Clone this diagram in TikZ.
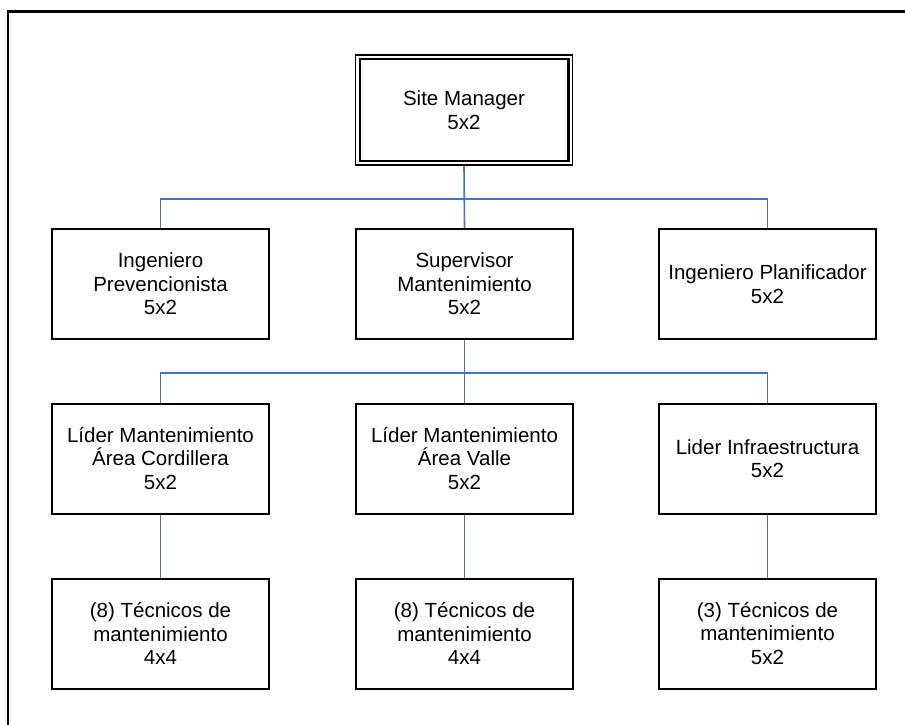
\documentclass[tikz,border=0pt]{standalone}
\usepackage{fontspec}
\setmainfont{Liberation Sans}
\usetikzlibrary{calc}
\definecolor{linkblue}{HTML}{4472C4}
\begin{document}
\begin{tikzpicture}[x=1pt,y=-1pt,
  unit/.style={draw=black, line width=2pt, minimum width=217pt, minimum height=110pt,
    align=center, inner sep=0pt, fill=white, font=\fontsize{20.5}{23.5}\selectfont},
  link/.style={draw=linkblue, line width=1.6pt},
  frame/.style={draw=black, line width=2.5pt}]
  \useasboundingbox (0,0) rectangle (905,725);
  \fill[white] (0,0) rectangle (905,725);

  % outer frame (runs past the right and bottom page edges)
  \draw[frame] (8,725) -- (8,11.5) -- (905,11.5);

  % top
  \node[unit, line width=1.5pt] (sm) at (464,110) {Site Manager\\5x2};
  \draw[line width=2.5pt] ($(sm.north west)+(5,5)$) rectangle ($(sm.south east)+(-5,-5)$);

  % second row
  \node[unit] (ip) at (160.5,284) {Ingeniero\\Prevencionista\\5x2};
  \node[unit] (sv) at (464.5,284) {Supervisor\\Mantenimiento\\5x2};
  \node[unit] (pl) at (767.5,284) {Ingeniero Planificador\\5x2};

  % third row
  \node[unit] (lc) at (160.5,458.5) {Líder Mantenimiento\\Área Cordillera\\5x2};
  \node[unit] (lv) at (464.5,458.5) {Líder Mantenimiento\\Área Valle\\5x2};
  \node[unit] (li) at (767.5,458.5) {Lider Infraestructura\\5x2};

  % fourth row
  \node[unit] (tc) at (160.5,633.5) {(8) Técnicos de\\mantenimiento\\4x4};
  \node[unit] (tv) at (464.5,633.5) {(8) Técnicos de\\mantenimiento\\4x4};
  \node[unit] (ti) at (767.5,633.5) {(3) Técnicos de\\mantenimiento\\5x2};

  % connectors
  \coordinate (j1) at (464.5,199);
  \coordinate (j2) at (464.5,373);
  \draw[link] (sm.south) -- (sv.north);
  \draw[link] (ip.north) |- (j1) -| (pl.north);
  \draw[link] (sv.south) -- (lv.north);
  \draw[link] (lc.north) |- (j2) -| (li.north);
  \draw[link] (lc.south) -- (tc.north);
  \draw[link] (lv.south) -- (tv.north);
  \draw[link] (li.south) -- (ti.north);
\end{tikzpicture}
\end{document}
